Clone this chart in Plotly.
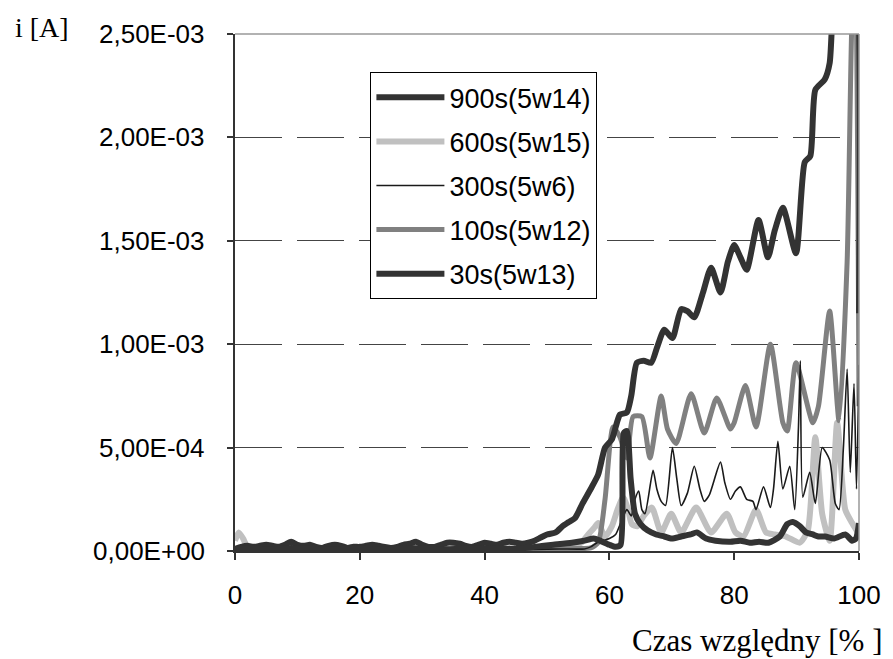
import plotly.graph_objects as go

# ---------------- data (current in units of 1e-3 A) ----------------
x_900 = [0, 1, 2, 3, 4, 5, 6, 7, 8, 9, 10, 11, 12, 13, 14, 15, 16, 17, 18, 19, 20,
         21, 22, 23, 24, 25, 26, 27, 28, 29, 30, 31, 32, 33, 34, 35, 36, 37, 38, 39, 40,
         41, 42, 43, 44, 45, 46, 47, 48, 49, 50, 51.4, 52.5, 53.5, 54.5, 55.7, 57, 58.2,
         59.3, 60.4, 61.2, 61.7, 62.8, 63.5, 64.4, 65.5, 66.7, 67.7, 68.8, 70.1, 71.5,
         72.5, 73.6, 75, 76.3, 77.8, 79, 80, 81, 82, 83.9, 85.4, 86.5, 87.8, 89.9, 91.3,
         92.2, 93, 94.5, 95.3, 96, 98, 99.6, 100]
y_900 = [0.01, 0.02, 0.025, 0.02, 0.025, 0.03, 0.025, 0.02, 0.03, 0.045, 0.03, 0.025,
         0.03, 0.02, 0.015, 0.025, 0.03, 0.025, 0.015, 0.02, 0.02, 0.025, 0.03, 0.025,
         0.02, 0.015, 0.02, 0.03, 0.035, 0.045, 0.03, 0.02, 0.02, 0.03, 0.04, 0.04,
         0.035, 0.025, 0.02, 0.03, 0.04, 0.035, 0.03, 0.04, 0.045, 0.04, 0.035, 0.04,
         0.05, 0.065, 0.08, 0.09, 0.12, 0.14, 0.16, 0.23, 0.30, 0.37, 0.50, 0.54, 0.62,
         0.66, 0.67, 0.75, 0.91, 0.92, 0.91, 0.99, 1.07, 1.03, 1.17, 1.16, 1.13, 1.25,
         1.37, 1.25, 1.40, 1.48, 1.42, 1.36, 1.60, 1.42, 1.55, 1.66, 1.44, 1.88, 1.91,
         2.23, 2.28, 2.36, 2.70, 2.95, 2.80, 1.15]

x_600 = [0, 0.6, 1.3, 2, 3, 5, 10, 15, 20, 25, 30, 35, 40, 45, 50, 52, 54, 55.5, 56.6,
         57.5, 58.2, 59.3, 60.4, 61.3, 62.2, 63, 63.6, 64.5, 65.5, 66.8, 68.3, 69.9, 71.5,
         73.9, 76.3, 78.8, 80.2, 81.5, 83.5, 85.1, 86.5, 88.3, 90.5, 91.8, 93, 94.1, 95.3,
         96.5, 97.8, 98.9, 100]
y_600 = [0.05, 0.09, 0.06, 0.02, 0.01, 0.01, 0.008, 0.012, 0.006, 0.01, 0.008, 0.012,
         0.015, 0.01, 0.012, 0.01, 0.02, 0.04, 0.08, 0.11, 0.135, 0.07, 0.12, 0.20, 0.26,
         0.20, 0.13, 0.12, 0.17, 0.21, 0.09, 0.18, 0.09, 0.21, 0.09, 0.18, 0.09, 0.07,
         0.20, 0.09, 0.08, 0.07, 0.04, 0.10, 0.55, 0.18, 0.05, 0.62, 0.20, 0.135, 0.08]

x_300 = [0, 4, 8, 12, 16, 20, 24, 28, 32, 36, 40, 44, 48, 52, 56, 57, 58, 59, 60, 61,
         62, 62.8, 63.5, 64.1, 64.7, 65.2, 65.7, 67, 67.6, 68.3, 69, 70.1, 70.8, 71.5,
         72.5, 73.6, 74.5, 75.2, 76, 77.8, 78.5, 79.4, 80.2, 81, 82, 83, 83.5, 84.7, 85.8,
         86.3, 87, 87.8, 88.9, 89.7, 90.3, 90.6, 91, 92.1, 93, 94.1, 95.3, 96.2, 96.8,
         97.5, 98.1, 98.6, 99.2, 99.6, 100]
y_300 = [0.005, 0.006, 0.004, 0.006, 0.005, 0.004, 0.006, 0.005, 0.006, 0.005, 0.006,
         0.007, 0.008, 0.01, 0.01, 0.02, 0.04, 0.05, 0.06, 0.08, 0.15, 0.20, 0.17, 0.25,
         0.29, 0.20, 0.18, 0.39, 0.30, 0.24, 0.22, 0.50, 0.35, 0.22, 0.28, 0.41, 0.30,
         0.24, 0.27, 0.43, 0.33, 0.25, 0.29, 0.31, 0.25, 0.24, 0.20, 0.31, 0.21, 0.30,
         0.53, 0.30, 0.41, 0.20, 0.60, 0.92, 0.26, 0.38, 0.23, 0.50, 0.44, 0.23, 0.20,
         0.50, 0.88, 0.38, 0.81, 0.30, 0.90]

x_100 = [0, 5, 10, 15, 20, 25, 30, 35, 40, 45, 50, 55, 57, 58.2, 59.3, 60.6, 61.7, 62.8,
         63.8, 65.2, 66.5, 68.3, 69.3, 70.7, 73.1, 75.2, 77.2, 79.4, 80, 81.8, 83.5, 85.8,
         87.8, 88.5, 89.9, 92.6, 93.5, 95.3, 96.8, 98.1, 98.9, 99.4, 100]
y_100 = [0.008, 0.006, 0.009, 0.007, 0.008, 0.006, 0.009, 0.008, 0.007, 0.009, 0.01,
         0.012, 0.015, 0.04, 0.25, 0.60, 0.55, 0.45, 0.65, 0.65, 0.45, 0.75, 0.59, 0.52,
         0.76, 0.57, 0.74, 0.59, 0.62, 0.80, 0.60, 1.00, 0.62, 0.58, 0.91, 0.62, 0.70,
         1.16, 0.63, 1.40, 2.60, 2.80, 0.70]

x_30 = [0, 3, 6, 9, 12, 15, 18, 21, 24, 27, 30, 33, 36, 39, 42, 45, 48, 51, 54, 56,
        57.5, 58.5, 60, 61, 61.8, 62.3, 62.8, 63.4, 64.1, 65, 66.1, 67.5, 68.8, 70, 71.5,
        73, 74, 75.5, 77, 79.4, 81, 82.5, 84, 85.5, 87.3, 88.5, 89.4, 90.5, 91.5, 92.6,
        93.5, 94.6, 96, 97.8, 98.9, 99.5, 100]
y_30 = [0.01, 0.012, 0.008, 0.015, 0.01, 0.006, 0.012, 0.01, 0.008, 0.014, 0.012, 0.008,
        0.01, 0.012, 0.015, 0.01, 0.02, 0.03, 0.04, 0.05, 0.06, 0.05, 0.03, 0.02, 0.03,
        0.57, 0.58, 0.35, 0.18, 0.13, 0.10, 0.08, 0.07, 0.06, 0.07, 0.08, 0.09, 0.06,
        0.05, 0.045, 0.05, 0.04, 0.045, 0.04, 0.07, 0.13, 0.14, 0.12, 0.09, 0.08, 0.07,
        0.07, 0.06, 0.08, 0.05, 0.06, 0.135]

series_names = ["900s(5w14)", "600s(5w15)", "300s(5w6)", "100s(5w12)", "30s(5w13)"]

y_tick_vals = [0, 0.0005, 0.001, 0.0015, 0.002, 0.0025]
y_tick_text = ["0,00E+00", "5,00E-04", "1,00E-03", "1,50E-03", "2,00E-03", "2,50E-03"]
x_tick_vals = [0, 20, 40, 60, 80, 100]
x_tick_text = ["0", "20", "40", "60", "80", "100"]

x_title = "Czas względny [% ]"
y_title = "i [A]"

# ---------------- figure ----------------
SCALE = 1e-3
styles = {
    "900s(5w14)": dict(color="#333333", width=6),
    "600s(5w15)": dict(color="#c0c0c0", width=6),
    "300s(5w6)": dict(color="#1a1a1a", width=1.6),
    "100s(5w12)": dict(color="#808080", width=5),
    "30s(5w13)": dict(color="#333333", width=6),
}
data = {
    "900s(5w14)": (x_900, y_900),
    "600s(5w15)": (x_600, y_600),
    "300s(5w6)": (x_300, y_300),
    "100s(5w12)": (x_100, y_100),
    "30s(5w13)": (x_30, y_30),
}
draw_order = ["600s(5w15)", "100s(5w12)", "300s(5w6)", "900s(5w14)", "30s(5w13)"]

fig = go.Figure()
for name in draw_order:
    xs, ys = data[name]
    fig.add_trace(go.Scatter(
        x=xs, y=[v * SCALE for v in ys], mode="lines", name=name,
        line=dict(shape="spline", smoothing=0.6, **styles[name]),
        legendgroup=name, legendrank=series_names.index(name) + 1,
    ))

SANS = "Liberation Sans, Arial, sans-serif"
SERIF = "Liberation Serif, Times New Roman, serif"
PLOT_W = 893 - 235 - 26

# y tick labels placed with the y axis scale, 28 px left of the axis
annotations = [
    dict(text=t, xref="paper", yref="y", x=-28 / PLOT_W, y=v,
         xanchor="right", yanchor="middle", showarrow=False,
         font=dict(family=SANS, size=26, color="black"))
    for v, t in zip(y_tick_vals, y_tick_text)
]
annotations += [
    dict(text=y_title, xref="paper", yref="paper", x=-0.355, y=1.0135,
         xanchor="left", yanchor="middle", showarrow=False,
         font=dict(family=SERIF, size=28)),
    dict(text=x_title, xref="paper", yref="paper", x=1.041, y=-0.173,
         xanchor="right", yanchor="middle", showarrow=False,
         font=dict(family=SERIF, size=31)),
]

fig.update_layout(
    width=893, height=659,
    margin=dict(l=235, r=26, t=34, b=108),
    paper_bgcolor="white", plot_bgcolor="white",
    font=dict(family=SANS, size=26, color="black"),
    showlegend=True,
    legend=dict(
        x=0.217, y=0.926, xanchor="left", yanchor="top",
        bgcolor="white", bordercolor="black", borderwidth=1,
        font=dict(size=27, family=SANS),
        tracegroupgap=6, itemwidth=68,
    ),
    xaxis=dict(
        range=[0, 100], tickvals=x_tick_vals, ticktext=x_tick_text,
        showgrid=False, zeroline=False,
        showline=True, linecolor="#333333", linewidth=1.5,
        ticks="outside", ticklen=7, tickcolor="#333333", tickwidth=1.5,
        ticklabelstandoff=13, tickfont=dict(size=26, family=SANS),
    ),
    yaxis=dict(
        range=[0, 0.0025], tickvals=y_tick_vals, showticklabels=False,
        showgrid=True, gridcolor="#444444", gridwidth=1, griddash="47px,15px",
        zeroline=False,
        showline=True, linecolor="#333333", linewidth=1.5,
        ticks="outside", ticklen=6, tickcolor="#333333", tickwidth=1.5,
    ),
    shapes=[
        dict(type="line", xref="paper", yref="paper", x0=0, x1=1, y0=1, y1=1,
             line=dict(color="#999999", width=1.5), layer="above"),
        dict(type="line", xref="paper", yref="paper", x0=1, x1=1, y0=0, y1=1,
             line=dict(color="#999999", width=1.5), layer="above"),
    ],
    annotations=annotations,
)

fig.write_html("out.html")
